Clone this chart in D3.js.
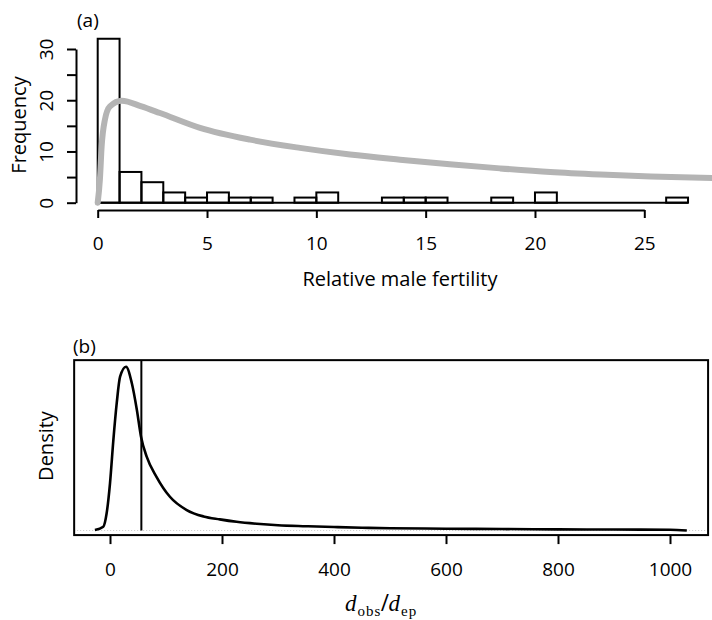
<!DOCTYPE html>
<html>
<head>
<meta charset="utf-8">
<script src="https://cdn.jsdelivr.net/npm/d3@7"></script>
<style>
  body { margin: 0; background: #fff; }
  svg { display: block; font-family: "Open Sans", sans-serif; }
</style>
</head>
<body>
<div id="chart"></div>
<script>
// panel (a): histogram of relative male fertility, bins of width 1
const binStarts = [0, 1, 2, 3, 4, 5, 6, 7, 8, 9, 10, 11, 12, 13, 14, 15, 16, 17, 18, 19, 20, 21, 22, 23, 24, 25, 26];
const binCounts = [32, 6, 4, 2, 1, 2, 1, 1, 0, 1, 2, 0, 0, 1, 1, 1, 0, 0, 1, 0, 2, 0, 0, 0, 0, 0, 1];
const fertTicks = [0, 5, 10, 15, 20, 25];
const freqTicks = [0, 5, 10, 15, 20, 25, 30];
const freqLabels = [0, 10, 20, 30];

// grey fitted curve over the histogram
const fitX = [0, 0.1, 0.18, 0.33, 0.56, 1.1, 2, 2.85, 4.68, 6.97, 9.25, 11.54, 13.83, 16.1, 18.4, 20.7, 23.0, 25.3, 28.2];
const fitY = [0, 4.5, 11, 16.2, 18.8, 19.9, 18.8, 17.5, 14.6, 12.3, 10.7, 9.4, 8.4, 7.5, 6.7, 6.0, 5.5, 5.1, 4.8];

// panel (b): density of d_obs/d_ep (relative units, peak = 1)
const densX = [-27, -12, -6, 0, 6, 12, 18, 28.6, 39, 48, 55.4, 65.5, 83, 107, 137, 167, 196, 226, 262, 300, 350, 400, 450, 500, 600, 700, 800, 900, 1000, 1030];
const densY = [0.003, 0.023, 0.105, 0.288, 0.552, 0.777, 0.939, 1.0, 0.899, 0.736, 0.573, 0.451, 0.328, 0.206, 0.125, 0.086, 0.068, 0.053, 0.041, 0.032, 0.026, 0.021, 0.017, 0.014, 0.011, 0.009, 0.007, 0.006, 0.005, 0.0];
const observed = 56;
const ratioTicks = [0, 200, 400, 600, 800, 1000];
const ratioLimits = [-64, 1068];
const densLimits = [-0.028, 1.04];

const width = 712;
const height = 620;

const svg = d3.select("#chart")
  .append("svg")
  .attr("width", width)
  .attr("height", height);

drawHistogram();
drawDensity();

function drawHistogram() {
  const x = d3.scaleLinear().domain([0, 25]).range([97.7, 644.3]);
  const y = d3.scaleLinear().domain([0, 30]).range([202.7, 49]);
  const g = svg.append("g");

  // empty bins show as a flat line along the baseline
  g.append("line")
    .attr("x1", x(binStarts[0]))
    .attr("x2", x(binStarts[binStarts.length - 1] + 1))
    .attr("y1", y(0))
    .attr("y2", y(0))
    .attr("stroke", "#000")
    .attr("stroke-width", 2);

  g.append("g")
    .selectAll("rect")
    .data(binStarts.filter((d, i) => binCounts[i] > 0))
    .join("rect")
    .attr("x", (d) => x(d))
    .attr("y", (d) => y(binCounts[binStarts.indexOf(d)]))
    .attr("width", (d) => x(d + 1) - x(d))
    .attr("height", (d) => y(0) - y(binCounts[binStarts.indexOf(d)]))
    .attr("fill", "none")
    .attr("stroke", "#000")
    .attr("stroke-width", 2);

  const fit = fitX.map((d, i) => [d, fitY[i]]);
  g.append("path")
    .datum(fit)
    .attr("fill", "none")
    .attr("stroke", "#b4b4b4")
    .attr("stroke-width", 6)
    .attr("stroke-linecap", "round")
    .attr("d", d3.line().x((d) => x(d[0])).y((d) => y(d[1])).curve(d3.curveMonotoneX));

  // x axis, drawn below the baseline
  const xAxis = g.append("g")
    .attr("transform", "translate(0,210)")
    .call(d3.axisBottom(x).tickValues(fertTicks).tickSize(8).tickSizeOuter(0));
  xAxis.select(".domain").attr("stroke-width", 2);
  xAxis.selectAll(".tick line").attr("stroke-width", 2);
  xAxis.selectAll(".tick text").attr("font-size", 19).attr("font-family", "Open Sans").attr("dy", 0).attr("y", 40);

  // y axis, ticks every 5, labels every 10, labels rotated
  const yAxis = g.append("g")
    .attr("transform", "translate(76,0)")
    .call(d3.axisLeft(y).tickValues(freqTicks).tickSize(9).tickSizeOuter(0)
      .tickFormat((d) => (freqLabels.includes(d) ? d : "")));
  yAxis.select(".domain").attr("stroke-width", 2);
  yAxis.selectAll(".tick line").attr("stroke-width", 2);
  yAxis.selectAll(".tick text")
    .attr("font-size", 19)
    .attr("font-family", "Open Sans")
    .attr("text-anchor", "middle")
    .attr("x", null)
    .attr("dy", 0)
    .attr("transform", "translate(-23,0) rotate(-90)");

  g.append("text")
    .attr("transform", "translate(26,125) rotate(-90)")
    .attr("text-anchor", "middle")
    .attr("font-size", 20)
    .text("Frequency");

  g.append("text")
    .attr("x", 400)
    .attr("y", 286)
    .attr("text-anchor", "middle")
    .attr("font-size", 20)
    .text("Relative male fertility");

  g.append("text")
    .attr("x", 77)
    .attr("y", 26.5)
    .attr("font-size", 19)
    .text("(a)");
}

function drawDensity() {
  const x = d3.scaleLinear().domain([0, 1000]).range([110, 670]);
  const y = d3.scaleLinear().domain([0, 1]).range([530.5, 366.7]);
  const g = svg.append("g");

  // zero line
  g.append("line")
    .attr("x1", x(ratioLimits[0]))
    .attr("x2", x(ratioLimits[1]))
    .attr("y1", y(0))
    .attr("y2", y(0))
    .attr("stroke", "#c8c8c8")
    .attr("stroke-width", 1)
    .attr("stroke-dasharray", "1 2");

  const dens = densX.map((d, i) => [d, densY[i]]);
  g.append("path")
    .datum(dens)
    .attr("fill", "none")
    .attr("stroke", "#000")
    .attr("stroke-width", 2.6)
    .attr("stroke-linejoin", "round")
    .attr("d", d3.line().x((d) => x(d[0])).y((d) => y(d[1])).curve(d3.curveMonotoneX));

  g.append("line")
    .attr("x1", x(observed))
    .attr("x2", x(observed))
    .attr("y1", y(densLimits[1]))
    .attr("y2", y(0))
    .attr("stroke", "#000")
    .attr("stroke-width", 2);

  g.append("rect")
    .attr("x", x(ratioLimits[0]))
    .attr("y", y(densLimits[1]))
    .attr("width", x(ratioLimits[1]) - x(ratioLimits[0]))
    .attr("height", y(densLimits[0]) - y(densLimits[1]))
    .attr("fill", "none")
    .attr("stroke", "#000")
    .attr("stroke-width", 2);

  const xAxis = g.append("g")
    .attr("transform", `translate(0,${y(densLimits[0])})`)
    .call(d3.axisBottom(x).tickValues(ratioTicks).tickSize(9).tickSizeOuter(0).tickFormat(d3.format("d")));
  xAxis.select(".domain").remove();
  xAxis.selectAll(".tick line").attr("stroke-width", 2);
  xAxis.selectAll(".tick text").attr("font-size", 19).attr("font-family", "Open Sans").attr("dy", 0).attr("y", 41);

  g.append("text")
    .attr("transform", "translate(53,446) rotate(-90)")
    .attr("text-anchor", "middle")
    .attr("font-size", 20)
    .text("Density");

  g.append("text")
    .attr("x", 73)
    .attr("y", 352.5)
    .attr("font-size", 19)
    .text("(b)");

  const label = g.append("text")
    .attr("x", 345)
    .attr("y", 611)
    .attr("font-family", "Liberation Serif, serif")
    .attr("font-size", 23);
  label.append("tspan").attr("font-style", "italic").text("d");
  label.append("tspan").attr("font-size", 15).attr("dy", 5).attr("dx", 1).attr("letter-spacing", 1).text("obs");
  label.append("tspan").attr("font-size", 26).attr("dy", -5).attr("font-weight", "bold").text("/");
  label.append("tspan").attr("font-style", "italic").text("d");
  label.append("tspan").attr("font-size", 15).attr("dy", 5).attr("dx", 1).attr("letter-spacing", 1).text("ep");
}
</script>
</body>
</html>
